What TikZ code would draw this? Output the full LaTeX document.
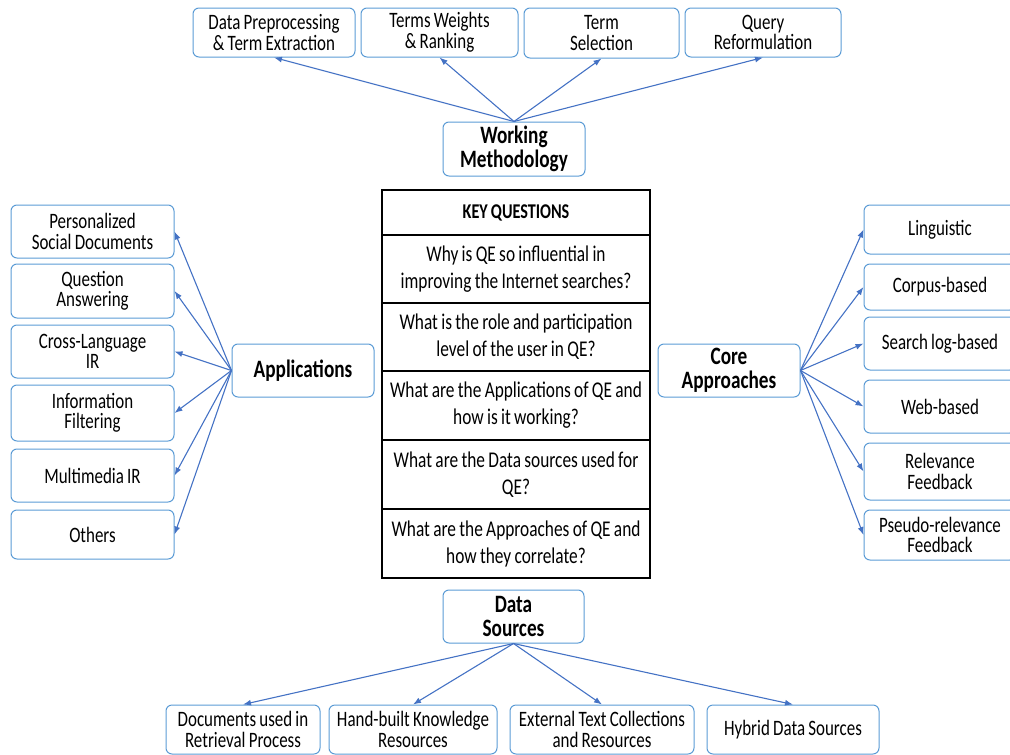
\documentclass[tikz,border=0pt]{standalone}
\usepackage{fontspec}
\setmainfont{Carlito}[FakeStretch=0.77, WordSpace=0.85]
\usetikzlibrary{arrows.meta}

\definecolor{boxblue}{HTML}{5B9BD5}
\definecolor{arrblue}{HTML}{4472C4}

\tikzset{
  box/.style={draw=boxblue, line width=1pt, rounded corners=6pt, align=center,
    inner sep=0pt, font=\fontsize{22}{20.5}\selectfont},
  hub/.style={box, font=\bfseries\fontsize{25}{24}\selectfont},
  qrow/.style={draw=black, line width=1.1pt, align=center, inner sep=0pt,
    minimum width=268, font=\fontsize{22.5}{27}\selectfont},
  arr/.style={arrblue, line width=1.1pt, -{Latex[length=8pt,width=6pt]}}
}

\begin{document}
\begin{tikzpicture}[x=1pt,y=-1pt]
\useasboundingbox (0,0) rectangle (1010,755);

% working methodology
\node [box, minimum width=162, minimum height=49] (dpre) at (274,32.5) {Data Preprocessing\\\& Term Extraction};
\node [box, minimum width=157, minimum height=49] (twr) at (439.5,32.5) {Terms Weights\\\& Ranking};
\node [box, minimum width=155, minimum height=50] (tsel) at (601.5,33) {Term\\Selection};
\node [box, minimum width=156, minimum height=49] (qref) at (763,32.5) {Query\\Reformulation};
\node [hub, minimum width=142, minimum height=54] (wm) at (514,149) {Working\\Methodology};

\draw [arr] (wm.north) -- (dpre.south);
\draw [arr] (wm.north) -- (twr.south);
\draw [arr] (wm.north) -- (tsel.south);
\draw [arr] (wm.north) -- (qref.south);

% key questions
\node [qrow, minimum height=45, font=\bfseries\fontsize{21}{20}\selectfont] (kq) at (516,212.5) {KEY QUESTIONS};
\node [qrow, minimum height=68] (q1) at (516,269) {Why is QE so influential in\\improving the Internet searches?};
\node [qrow, minimum height=68] (q2) at (516,337) {What is the role and participation\\level of the user in QE?};
\node [qrow, minimum height=69] (q3) at (516,405.5) {What are the Applications of QE and\\how is it working?};
\node [qrow, minimum height=69] (q4) at (516,474.5) {What are the Data sources used for\\QE?};
\node [qrow, minimum height=69] (q5) at (516,543.5) {What are the Approaches of QE and\\how they correlate?};

% applications
\node [box, minimum width=163, minimum height=53] (psd) at (92.5,231.5) {Personalized\\Social Documents};
\node [box, minimum width=163, minimum height=54] (qa) at (92.5,291) {Question\\Answering};
\node [box, minimum width=163, minimum height=53] (clir) at (92.5,351.5) {Cross-Language\\IR};
\node [box, minimum width=163, minimum height=56] (inf) at (92.5,413) {Information\\Filtering};
\node [box, minimum width=163, minimum height=53] (mmir) at (92.5,475.5) {Multimedia IR};
\node [box, minimum width=163, minimum height=49] (oth) at (92.5,534.5) {Others};
\node [hub, minimum width=142, minimum height=53] (app) at (303,370.5) {Applications};

\draw [arr] (app.west) -- (psd.east);
\draw [arr] (app.west) -- (qa.east);
\draw [arr] (app.west) -- (clir.east);
\draw [arr] (app.west) -- (inf.east);
\draw [arr] (app.west) -- (mmir.east);
\draw [arr] (app.west) -- (oth.east);

% core approaches
\node [box, minimum width=152, minimum height=49] (ling) at (940,229.5) {Linguistic};
\node [box, minimum width=152, minimum height=46] (corp) at (940,287) {Corpus-based};
\node [box, minimum width=152, minimum height=53] (slog) at (940,343.5) {Search log-based};
\node [box, minimum width=152, minimum height=53] (web) at (940,406.5) {Web-based};
\node [box, minimum width=152, minimum height=57] (rf) at (940,471.5) {Relevance\\Feedback};
\node [box, minimum width=152, minimum height=50] (prf) at (940,535) {Pseudo-relevance\\Feedback};
\node [hub, minimum width=142, minimum height=53] (core) at (729,370.5) {Core\\Approaches};

\draw [arr] (core.east) -- (ling.west);
\draw [arr] (core.east) -- (corp.west);
\draw [arr] (core.east) -- (slog.west);
\draw [arr] (core.east) -- (web.west);
\draw [arr] (core.east) -- (rf.west);
\draw [arr] (core.east) -- (prf.west);

% data sources
\node [hub, minimum width=141, minimum height=53] (ds) at (513.5,616.5) {Data\\Sources};
\node [box, minimum width=154, minimum height=49] (docs) at (243,729.5) {Documents used in\\Retrieval Process};
\node [box, minimum width=168, minimum height=49] (hbk) at (413,729.5) {Hand-built Knowledge\\Resources};
\node [box, minimum width=184, minimum height=49] (ext) at (602,729.5) {External Text Collections\\and Resources};
\node [box, minimum width=172, minimum height=49] (hyb) at (793,729.5) {Hybrid Data Sources};

\draw [arr] (ds.south) -- (docs.north);
\draw [arr] (ds.south) -- (hbk.north);
\draw [arr] (ds.south) -- (ext.north);
\draw [arr] (ds.south) -- (hyb.north);

\end{tikzpicture}
\end{document}
